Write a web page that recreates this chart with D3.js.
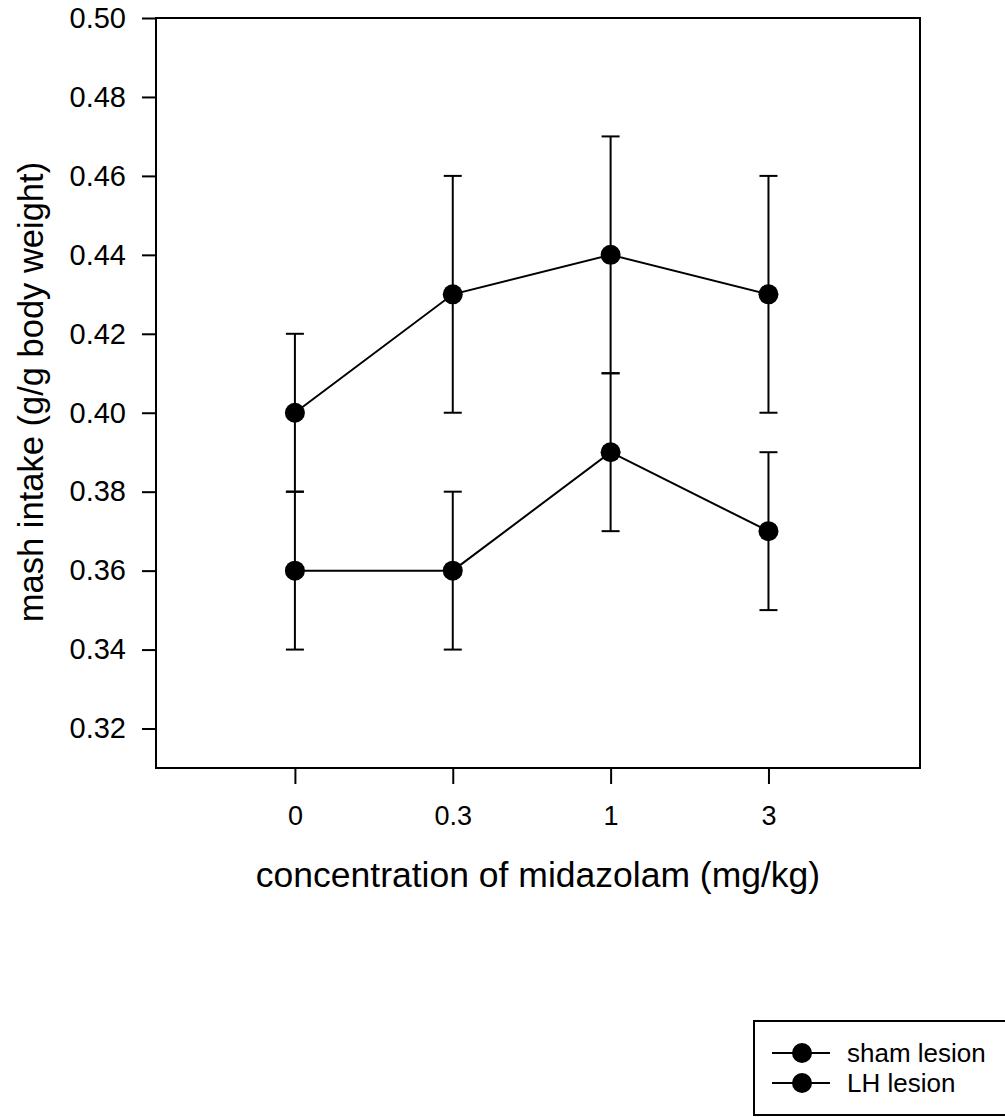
<!DOCTYPE html>
<html><head><meta charset="utf-8">
<script src="https://cdn.jsdelivr.net/npm/d3@7"></script>
<style>body{margin:0;background:#fff}svg{display:block}text{font-family:"Liberation Sans",Arial,sans-serif;fill:#000}</style>
</head><body>
<script>
const categories = ["0", "0.3", "1", "3"];
const shamMean = [0.36, 0.36, 0.39, 0.37];
const shamErr = [0.02, 0.02, 0.02, 0.02];
const lhMean = [0.40, 0.43, 0.44, 0.43];
const lhErr = [0.02, 0.03, 0.03, 0.03];
const yTicks = [0.32, 0.34, 0.36, 0.38, 0.40, 0.42, 0.44, 0.46, 0.48, 0.50];
const seriesNames = ["sham lesion", "LH lesion"];

(function () {
const W = 1005, H = 1117;
const svg = d3.select("body").append("svg").attr("width", W).attr("height", H);

const pL = 156, pR = 920, pT = 18, pB = 768;
const x = d3.scaleLinear().domain([-0.88, 3.96]).range([pL, pR]);
const y = d3.scaleLinear().domain([0.31, 0.50]).range([pB, pT]);

// frame
svg.append("rect").attr("x", pL).attr("y", pT).attr("width", pR - pL).attr("height", pB - pT)
  .attr("fill", "none").attr("stroke", "#000").attr("stroke-width", 2);

// y axis
const yAxis = d3.axisLeft(y).tickValues(yTicks).tickFormat(d3.format(".2f")).tickSize(14).tickPadding(16);
const gy = svg.append("g").attr("transform", `translate(${pL},0)`).call(yAxis);
gy.select(".domain").remove();
gy.selectAll("line").attr("stroke-width", 2);
gy.selectAll("text").style("font-size", "29px");

// x axis
const xAxis = d3.axisBottom(x).tickValues([0,1,2,3]).tickFormat(i => categories[i]).tickSize(16).tickPadding(22);
const gx = svg.append("g").attr("transform", `translate(0,${pB})`).call(xAxis);
gx.select(".domain").remove();
gx.selectAll("line").attr("stroke-width", 2);
gx.selectAll("text").style("font-size", "27px");

// titles
svg.append("text").attr("x", 538).attr("y", 887).attr("text-anchor", "middle")
  .style("font-size", "35.5px").text("concentration of midazolam (mg/kg)");
svg.append("text").attr("transform", "translate(43,392) rotate(-90)").attr("text-anchor", "middle")
  .style("font-size", "34.5px").text("mash intake (g/g body weight)");

const series = [{m: shamMean, e: shamErr}, {m: lhMean, e: lhErr}];
const line = d3.line().x((d, i) => x(i)).y(d => y(d));
series.forEach(s => {
  const g = svg.append("g");
  s.m.forEach((v, i) => {
    const cx = x(i);
    g.append("line").attr("x1", cx).attr("x2", cx).attr("y1", y(v - s.e[i])).attr("y2", y(v + s.e[i]))
      .attr("stroke", "#000").attr("stroke-width", 2);
    [v - s.e[i], v + s.e[i]].forEach(c => {
      g.append("line").attr("x1", cx - 9).attr("x2", cx + 9).attr("y1", y(c)).attr("y2", y(c))
        .attr("stroke", "#000").attr("stroke-width", 2);
    });
  });
  g.append("path").datum(s.m).attr("d", line).attr("fill", "none").attr("stroke", "#000").attr("stroke-width", 2);
  g.selectAll("circle").data(s.m).enter().append("circle")
    .attr("cx", (d, i) => x(i)).attr("cy", d => y(d)).attr("r", 10).attr("fill", "#000");
});

// legend
const lg = svg.append("g");
lg.append("rect").attr("x", 754).attr("y", 1021).attr("width", 260).attr("height", 94)
  .attr("fill", "none").attr("stroke", "#000").attr("stroke-width", 2);
seriesNames.forEach((n, i) => {
  const yy = 1053 + i * 30;
  lg.append("line").attr("x1", 772).attr("x2", 830).attr("y1", yy).attr("y2", yy).attr("stroke", "#000").attr("stroke-width", 2);
  lg.append("circle").attr("cx", 802).attr("cy", yy).attr("r", 10).attr("fill", "#000");
  lg.append("text").attr("x", 847).attr("y", yy + 9).style("font-size", "26px").text(n);
});
})();
</script>
</body></html>
